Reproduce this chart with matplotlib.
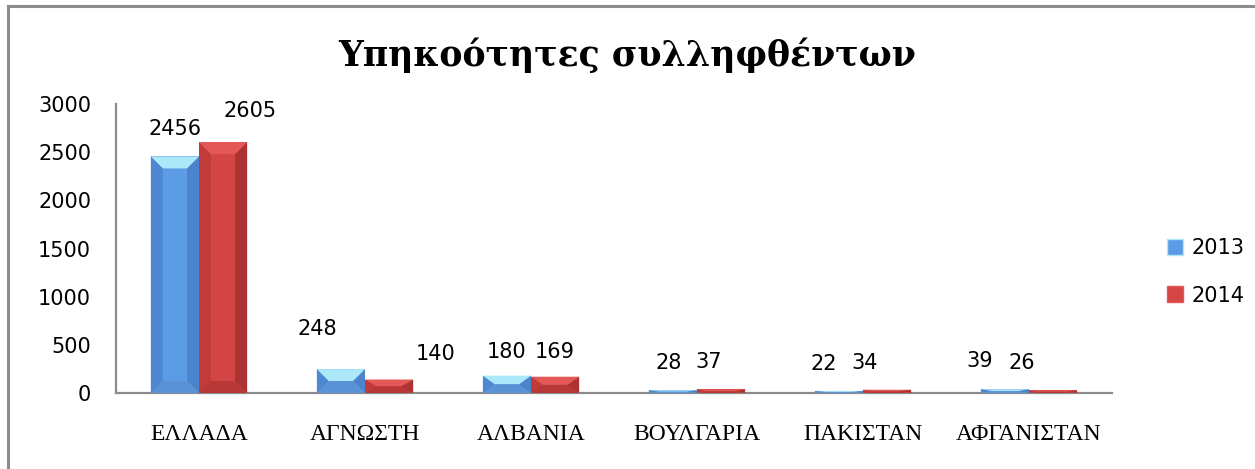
import numpy as np
import matplotlib as mpl
mpl.use('Agg')
import matplotlib.pyplot as plt
from matplotlib.patches import Polygon, Patch

categories = ['ΕΛΛΑΔΑ', 'ΑΓΝΩΣΤΗ', 'ΑΛΒΑΝΙΑ', 'ΒΟΥΛΓΑΡΙΑ', 'ΠΑΚΙΣΤΑΝ', 'ΑΦΓΑΝΙΣΤΑΝ']
vals_2013 = [2456, 248, 180, 28, 22, 39]
vals_2014 = [2605, 140, 169, 37, 34, 26]
series_names = ['2013', '2014']
yticks = [0, 500, 1000, 1500, 2000, 2500, 3000]

# label nudges in pixels (excel placed them by hand)
lab_dx_2013 = [0, -24, 0, -4, -15, -25]
lab_dy_2013 = [27, 40, 24, 27, 27, 28]
lab_dx_2014 = [27, 46, 0, -12, -22, -31]
lab_dy_2014 = [31, 26, 25, 27, 27, 27]

# bevel colours: side-left, centre, side-right, top, bottom
blue = ['#4f88d2', '#5c9ce4', '#4c84cb', '#ace7fa', '#5a92d6']
red = ['#c23b3b', '#d44545', '#ad3333', '#e45858', '#b83838']

W, H, DPI = 12.55, 4.69, 100
fig = plt.figure(figsize=(W, H), dpi=DPI)
ax = fig.add_axes([116 / 1255, 1 - 393 / 469, (1112 - 116) / 1255, (393 - 104) / 469])

x = np.arange(len(categories))
bw = 0.29
ax.set_xlim(-0.5, len(categories) - 0.5)
ax.set_ylim(0, 3000)

# bevel size in data units (~12 px)
ax_w_px = (1112 - 116)
ax_h_px = (393 - 104)
bx = 12 / ax_w_px * len(categories)
by_full = 12 / ax_h_px * 3000


def bevel_bar(xc, h, cols):
    x0, x1 = xc - bw / 2, xc + bw / 2
    b = min(by_full, h / 2)
    dx = bx
    ax.add_patch(Polygon([[x0, 0], [x1, 0], [x1, h], [x0, h]], closed=True,
                         facecolor=cols[1], edgecolor='none', zorder=2))
    # left side
    ax.add_patch(Polygon([[x0, 0], [x0 + dx, b], [x0 + dx, h - b], [x0, h]],
                         facecolor=cols[0], edgecolor='none', zorder=3))
    # right side
    ax.add_patch(Polygon([[x1, 0], [x1 - dx, b], [x1 - dx, h - b], [x1, h]],
                         facecolor=cols[2], edgecolor='none', zorder=3))
    # top
    ax.add_patch(Polygon([[x0, h], [x1, h], [x1 - dx, h - b], [x0 + dx, h - b]],
                         facecolor=cols[3], edgecolor='none', zorder=3))
    # bottom
    ax.add_patch(Polygon([[x0, 0], [x1, 0], [x1 - dx, b], [x0 + dx, b]],
                         facecolor=cols[4], edgecolor='none', zorder=3))


for i in range(len(categories)):
    bevel_bar(x[i] - bw / 2, vals_2013[i], blue)
    bevel_bar(x[i] + bw / 2, vals_2014[i], red)

for i in range(len(categories)):
    ax.annotate(str(vals_2013[i]), (x[i] - bw / 2, vals_2013[i]),
                xytext=(lab_dx_2013[i], lab_dy_2013[i]), textcoords='offset pixels',
                ha='center', va='center', fontsize=15, family='DejaVu Sans', zorder=5)
    ax.annotate(str(vals_2014[i]), (x[i] + bw / 2, vals_2014[i]),
                xytext=(lab_dx_2014[i], lab_dy_2014[i]), textcoords='offset pixels',
                ha='center', va='center', fontsize=15, family='DejaVu Sans', zorder=5)

ax.set_xticks(x)
ax.set_xticklabels(categories, family='Liberation Serif', fontsize=17)
ax.set_yticks(yticks)
ax.set_yticklabels([str(t) for t in yticks], family='DejaVu Sans', fontsize=15)
ax.tick_params(axis='x', length=0, pad=22)
ax.tick_params(axis='y', length=0, pad=18)
for s in ['top', 'right']:
    ax.spines[s].set_visible(False)
for s in ['left', 'bottom']:
    ax.spines[s].set_color('#8c8c8c')
    ax.spines[s].set_linewidth(1.6)

fig.text(0.5, 1 - 55 / 469, 'Υπηκοότητες συλληφθέντων', ha='center', va='center',
         fontsize=25, fontweight='bold', family='DejaVu Serif')

handles = [Patch(facecolor=blue[1], edgecolor=blue[3]), Patch(facecolor=red[1], edgecolor=red[3])]
fig.legend(handles, series_names, loc='center left', bbox_to_anchor=(1148 / 1255, 1 - 272 / 469),
           frameon=False, handlelength=0.8, handleheight=0.8,
           handletextpad=0.4, labelspacing=1.3, prop={'family': 'DejaVu Sans', 'size': 15})

# outer chart border (top and left edges visible)
fig.add_artist(plt.Line2D([8 / 1255, 1], [1 - 6 / 469, 1 - 6 / 469], color='#8c8c8c', lw=2.2,
                          transform=fig.transFigure))
fig.add_artist(plt.Line2D([8 / 1255, 8 / 1255], [0, 1 - 6 / 469], color='#8c8c8c', lw=2.2,
                          transform=fig.transFigure))

fig.savefig('out.png', dpi=DPI)
plt.close()
